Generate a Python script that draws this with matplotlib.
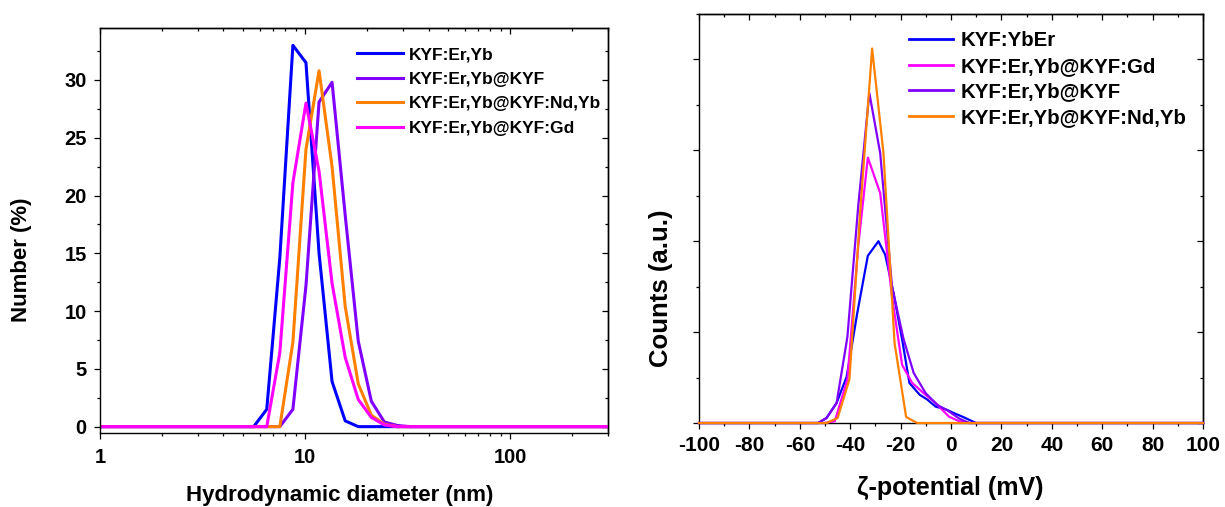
import matplotlib
matplotlib.use("Agg")
import matplotlib.pyplot as plt
from matplotlib.ticker import MultipleLocator, LogLocator, NullFormatter, FixedLocator

plt.rcParams['font.family'] = ['Liberation Sans', 'DejaVu Sans']
plt.rcParams['font.weight'] = 'bold'
plt.rcParams['axes.labelweight'] = 'bold'
plt.rcParams['axes.linewidth'] = 1.0
plt.rcParams['axes.unicode_minus'] = False

# ---- DLS number distribution (size bins in nm) ----
size_nm = [0.965, 1.117, 1.294, 1.499, 1.735, 2.010, 2.327, 2.695, 3.121, 3.615,
           4.187, 4.848, 5.615, 6.503, 7.531, 8.721, 10.10, 11.70, 13.54, 15.69,
           18.17, 21.04, 24.36, 28.21, 32.67, 37.84, 43.82, 50.75, 58.77, 68.06,
           78.82, 91.28, 105.7, 122.4, 141.8, 164.2, 190.1, 220.2, 255.0, 295.3, 342.0]

num_core = [0, 0, 0, 0, 0, 0, 0, 0, 0, 0,
            0, 0, 0, 1.5, 14.6, 33.0, 31.5, 15.0, 3.9, 0.5,
            0, 0, 0, 0, 0, 0, 0, 0, 0, 0,
            0, 0, 0, 0, 0, 0, 0, 0, 0, 0, 0]
num_core_kyf = [0, 0, 0, 0, 0, 0, 0, 0, 0, 0,
                0, 0, 0, 0, 0, 1.5, 12.2, 28.1, 29.8, 18.3,
                7.4, 2.2, 0.4, 0.1, 0, 0, 0, 0, 0, 0,
                0, 0, 0, 0, 0, 0, 0, 0, 0, 0, 0]
num_core_ndyb = [0, 0, 0, 0, 0, 0, 0, 0, 0, 0,
                 0, 0, 0, 0, 0, 7.3, 24.0, 30.8, 22.5, 10.4,
                 3.7, 1.0, 0.2, 0, 0, 0, 0, 0, 0, 0,
                 0, 0, 0, 0, 0, 0, 0, 0, 0, 0, 0]
num_core_gd = [0, 0, 0, 0, 0, 0, 0, 0, 0, 0,
               0, 0, 0, 0, 6.4, 21.1, 28.0, 22.1, 12.4, 6.0,
               2.35, 0.8, 0.15, 0, 0, 0, 0, 0, 0, 0,
               0, 0, 0, 0, 0, 0, 0, 0, 0, 0, 0]

# ---- Zeta potential distributions ----
zeta_core_x = [-100, -52.7, -49.4, -45.4, -41.4, -37.2, -33.0, -28.8, -26.1, -22.8,
               -19.4, -16.5, -12.4, -9.5, -6.1, -2.1, 1.9, 4.5, 9.9, 100]
zeta_core_y = [0, 0, 0.055, 0.22, 0.51, 1.21, 1.84, 2.0, 1.85, 1.43,
               0.92, 0.44, 0.31, 0.26, 0.18, 0.15, 0.10, 0.07, 0, 0]
zeta_gd_x = [-100, -50.1, -46.1, -41.1, -36.8, -33.0, -28.1, -23.4, -19.4, -15.4,
             -10.1, -6.1, -0.8, 3.2, 7.2, 100]
zeta_gd_y = [0, 0, 0.02, 0.48, 1.95, 2.92, 2.53, 1.39, 0.64, 0.44,
             0.31, 0.22, 0.07, 0.02, 0, 0]
zeta_kyf_x = [-100, -52.7, -49.4, -45.4, -41.1, -36.8, -32.4, -28.1, -23.4, -18.8,
              -14.8, -10.1, -5.5, -1.5, 3.2, 7.2, 100]
zeta_kyf_y = [0, 0, 0.055, 0.22, 0.95, 2.39, 3.63, 2.97, 1.50, 0.92,
              0.55, 0.33, 0.20, 0.14, 0.05, 0, 0]
zeta_ndyb_x = [-100, -49.4, -45.0, -40.3, -36.1, -31.3, -26.8, -22.4, -17.8, -13.4, 100]
zeta_ndyb_y = [0, 0, 0.055, 0.48, 2.3, 4.12, 2.97, 0.88, 0.066, 0, 0]

BLUE = '#0000FF'
VIOLET = '#8000FF'
ORANGE = '#FF8000'
MAGENTA = '#FF00FF'

W, H = 1225, 507
fig = plt.figure(figsize=(W / 100, H / 100), dpi=100)


def box(l, t, r, b):
    return [l / W, 1 - b / H, (r - l) / W, (b - t) / H]


# ================= left panel =================
ax1 = fig.add_axes(box(100, 28, 608, 433))
lw1 = 2.2
ax1.plot(size_nm, num_core, color=BLUE, lw=lw1, label='KYF:Er,Yb')
ax1.plot(size_nm, num_core_kyf, color=VIOLET, lw=lw1, label='KYF:Er,Yb@KYF')
ax1.plot(size_nm, num_core_ndyb, color=ORANGE, lw=lw1, label='KYF:Er,Yb@KYF:Nd,Yb')
ax1.plot(size_nm, num_core_gd, color=MAGENTA, lw=lw1, label='KYF:Er,Yb@KYF:Gd')
ax1.set_xscale('log')
ax1.set_xlim(1, 300)
ax1.set_ylim(-0.55, 34.5)
ax1.xaxis.set_major_locator(FixedLocator([1, 10, 100]))
ax1.xaxis.set_major_formatter(plt.FuncFormatter(lambda v, p: f'{v:g}'))
ax1.xaxis.set_minor_locator(LogLocator(base=10, subs=range(2, 10)))
ax1.xaxis.set_minor_formatter(NullFormatter())
ax1.yaxis.set_major_locator(MultipleLocator(5))
ax1.yaxis.set_minor_locator(MultipleLocator(2.5))
ax1.tick_params(which='major', direction='out', length=4.5, width=0.9, labelsize=14.5, pad=5)
ax1.tick_params(axis='x', which='major', pad=6)
ax1.tick_params(which='minor', direction='out', length=2.5, width=0.9)
ax1.set_xlabel('Hydrodynamic diameter (nm)', fontsize=16)
ax1.set_ylabel('Number (%)', fontsize=16)
ax1.xaxis.set_label_coords(0.472, -0.128)
ax1.yaxis.set_label_coords(-0.134, 0.427)

top1 = ax1.secondary_xaxis('top')
top1.xaxis.set_major_locator(FixedLocator([1, 10, 100]))
top1.xaxis.set_minor_locator(LogLocator(base=10, subs=range(2, 10)))
top1.xaxis.set_major_formatter(NullFormatter())
top1.xaxis.set_minor_formatter(NullFormatter())
top1.tick_params(which='major', direction='in', length=4, width=0.9)
top1.tick_params(which='minor', direction='in', length=2.5, width=0.9)
right1 = ax1.secondary_yaxis('right')
right1.yaxis.set_major_locator(MultipleLocator(5))
right1.yaxis.set_minor_locator(MultipleLocator(2.5))
right1.yaxis.set_major_formatter(NullFormatter())
right1.tick_params(which='major', direction='in', length=4, width=0.9)
right1.tick_params(which='minor', direction='in', length=2.5, width=0.9)

leg1 = ax1.legend(loc='upper left', bbox_to_anchor=((357 - 100) / 508, 1 - (47 - 28) / 405),
                  frameon=False, fontsize=12.5, handlelength=2.64, handletextpad=0.35,
                  labelspacing=0.54, borderpad=0, borderaxespad=0)
for ln in leg1.get_lines():
    ln.set_linewidth(2.2)

# ================= right panel =================
ax2 = fig.add_axes(box(699, 14, 1203, 423))
lw2 = 1.6
ax2.plot(zeta_core_x, zeta_core_y, color=BLUE, lw=lw2, label='KYF:YbEr', clip_on=False, zorder=3)
ax2.plot(zeta_gd_x, zeta_gd_y, color=MAGENTA, lw=lw2, label='KYF:Er,Yb@KYF:Gd', clip_on=False, zorder=3)
ax2.plot(zeta_kyf_x, zeta_kyf_y, color=VIOLET, lw=lw2, label='KYF:Er,Yb@KYF', clip_on=False, zorder=3)
ax2.plot(zeta_ndyb_x, zeta_ndyb_y, color=ORANGE, lw=lw2, label='KYF:Er,Yb@KYF:Nd,Yb', clip_on=False, zorder=3)
ax2.set_xlim(-100, 100)
ax2.set_ylim(0, 4.5)
ax2.xaxis.set_major_locator(MultipleLocator(20))
ax2.xaxis.set_minor_locator(MultipleLocator(10))
ax2.yaxis.set_major_locator(MultipleLocator(1))
ax2.yaxis.set_minor_locator(MultipleLocator(0.5))
ax2.yaxis.set_major_formatter(NullFormatter())
ax2.tick_params(which='major', direction='out', length=4.5, width=0.9, labelsize=15, pad=5)
ax2.tick_params(which='minor', direction='out', length=2.5, width=0.9)
ax2.set_xlabel('ζ-potential (mV)', fontsize=18)
ax2.set_ylabel('Counts (a.u.)', fontsize=18.5)
ax2.xaxis.set_label_coords(0.498, -0.13)
ax2.yaxis.set_label_coords(-0.052, 0.33)

top2 = ax2.secondary_xaxis('top')
top2.xaxis.set_major_locator(MultipleLocator(20))
top2.xaxis.set_minor_locator(MultipleLocator(10))
top2.xaxis.set_major_formatter(NullFormatter())
top2.tick_params(which='major', direction='in', length=4, width=0.9)
top2.tick_params(which='minor', direction='in', length=2.5, width=0.9)
right2 = ax2.secondary_yaxis('right')
right2.yaxis.set_major_locator(MultipleLocator(1))
right2.yaxis.set_minor_locator(MultipleLocator(0.5))
right2.yaxis.set_major_formatter(NullFormatter())
right2.tick_params(which='major', direction='in', length=4, width=0.9)
right2.tick_params(which='minor', direction='in', length=2.5, width=0.9)

leg2 = ax2.legend(loc='upper left', bbox_to_anchor=((909 - 699) / 504, 1 - (31 - 14) / 409),
                  frameon=False, fontsize=14.7, handlelength=2.15, handletextpad=0.38,
                  labelspacing=0.33, borderpad=0, borderaxespad=0)
for ln in leg2.get_lines():
    ln.set_linewidth(2.0)

fig.savefig('out.png', dpi=100)
